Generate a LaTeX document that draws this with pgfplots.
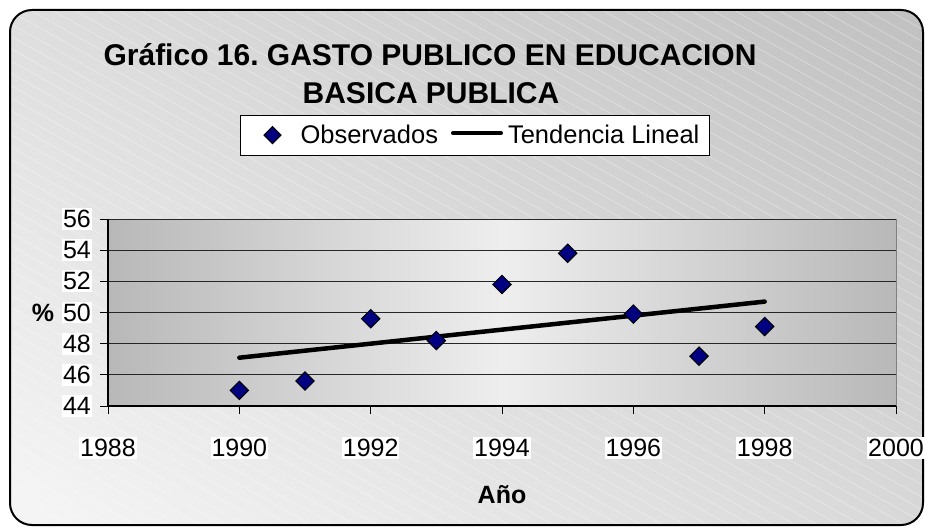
\documentclass[border=0pt]{standalone}
\usepackage{fontspec}
\setmainfont{Liberation Sans}
\usepackage{pgfplots}
\pgfplotsset{compat=1.18}

\definecolor{frameDark}{RGB}{194,194,194}
\definecolor{frameLight}{RGB}{244,244,244}
\definecolor{plotEdge}{RGB}{184,184,184}
\definecolor{plotMid}{RGB}{238,238,238}
\definecolor{obsBlue}{RGB}{0,0,128}

\begin{document}
\frenchspacing
\begin{tikzpicture}
\useasboundingbox (0pt,0pt) rectangle (925pt,-527pt);

% chart area: rounded frame, grey gradient, faint diagonal hatching
\begin{scope}[x=1pt,y=-1pt]
  \begin{scope}
    \clip[rounded corners=22pt] (10,10) rectangle (923,525);
    \shade[top color=frameDark, bottom color=frameLight, shading angle=-35] (-100,-100) rectangle (1025,627);
    \foreach \i in {-1000,-978,...,925}
      \draw[white, opacity=0.45, line width=0.5pt] (\i,0) -- ++(1100,616);
  \end{scope}
  \draw[line width=2pt, rounded corners=22pt] (10,10) rectangle (923,525);
  \node[font=\bfseries\fontsize{30}{34}\selectfont, anchor=base, inner sep=0pt]
    at (430,66) {Gráfico 16. GASTO PUBLICO EN EDUCACION};
  \node[font=\bfseries\fontsize{30}{34}\selectfont, anchor=base, inner sep=0pt]
    at (431,103) {BASICA PUBLICA};
\end{scope}

\begin{axis}[
    at={(108pt,-406pt)}, anchor=south west,
    scale only axis,
    width=788pt, height=187pt,
    xmin=1988, xmax=2000,
    ymin=44, ymax=56,
    xtick={1988,1990,...,2000},
    ytick={44,46,...,56},
    axis lines=left,
    axis line style={-, line width=1.2pt, black},
    tick align=outside,
    major tick length=8pt,
    tick style={black, line width=1pt},
    ymajorgrids,
    grid style={black!85, line width=0.9pt},
    axis background/.style={left color=plotEdge, right color=plotEdge, middle color=plotMid, draw=gray, line width=1pt},
    /pgf/number format/1000 sep={},
    /pgf/number format/assume math mode=true,
    tick label style={font=\fontsize{25}{30}\selectfont, fill=white, inner xsep=1pt, inner ysep=2pt},
    xticklabel style={yshift=-23pt},
    yticklabel style={xshift=-8pt},
    xlabel={Año},
    xlabel style={at={(axis description cs:0.5,-0.476)}, anchor=center, font=\bfseries\fontsize{25}{30}\selectfont},
    ylabel={\%},
    ylabel style={at={(axis description cs:-0.0825,0.5)}, rotate=-90, anchor=center, font=\bfseries\fontsize{25}{30}\selectfont},
    legend columns=2,
    legend style={at={(0.4657,1)}, anchor=south, yshift=63.5pt,
        draw=black, fill=white, line width=0.8pt,
        font=\fontsize{25.5}{30}\selectfont,
        inner xsep=0pt, inner ysep=8pt,
        nodes={inner xsep=0pt},
        /tikz/every even column/.append style={column sep=13pt}},
    clip=false
]
\addplot[only marks, mark=square*, mark size=6.5pt,
    mark options={rotate=45, fill=obsBlue, draw=black, line width=1pt},
    legend image code/.code={
        \path[draw=none] (-32pt,0pt) -- (28pt,0pt);
        \draw[only marks, mark=square*, mark size=6pt,
            mark options={rotate=45, fill=obsBlue, draw=black, line width=1pt}]
            plot coordinates {(0pt,0pt)};}]
    coordinates {
    (1990,45.0) (1991,45.6) (1992,49.6) (1993,48.2) (1994,51.8)
    (1995,53.8) (1996,49.9) (1997,47.2) (1998,49.1)
};
\addlegendentry{Observados}
\addplot[black, line width=4.5pt, line cap=round,
    legend image code/.code={
        \path[draw=none] (0pt,0pt) -- (55pt,0pt);
        \draw[black, line width=4pt] (0pt,2pt) -- (48pt,2pt);}]
    coordinates {(1990,47.1) (1998,50.7)};
\addlegendentry{Tendencia Lineal\hspace*{10pt}}
\end{axis}
\end{tikzpicture}
\end{document}
